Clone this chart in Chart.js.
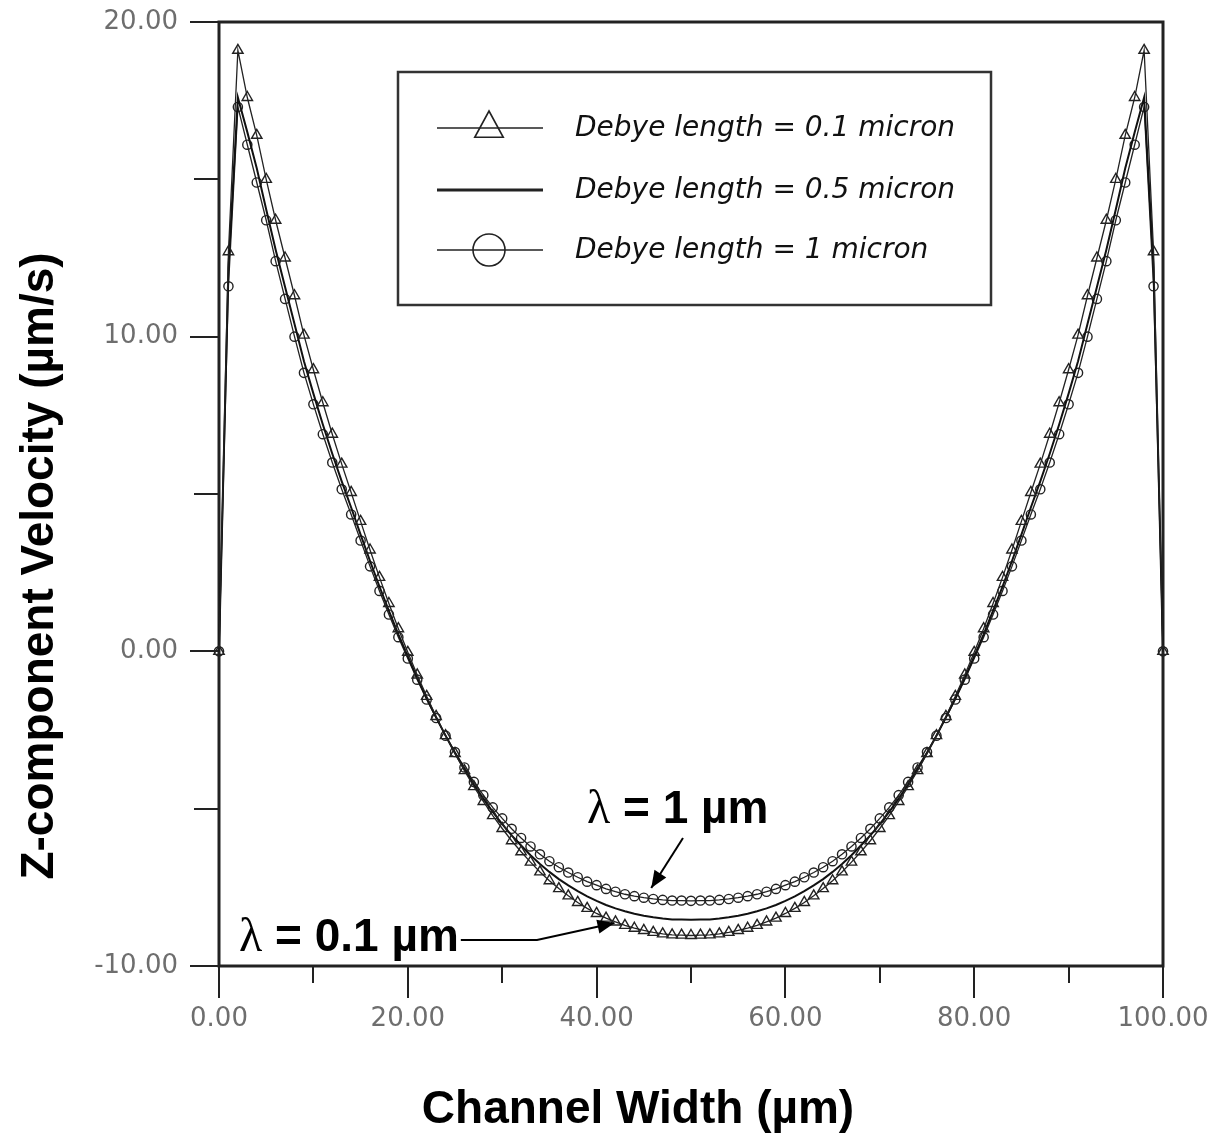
<!DOCTYPE html>
<html><head><meta charset="utf-8">
<script src="https://cdn.jsdelivr.net/npm/chart.js@4.4.1/dist/chart.umd.min.js"></script>
<style>html,body{margin:0;padding:0;background:#fff}#wrap{width:1219px;height:1136px}</style>
</head><body><div id="wrap"><canvas id="c" width="1219" height="1136"></canvas></div>
<script>
// ---- data ----
const channelWidth = [0,1,2,3,4,5,6,7,8,9,10,11,12,13,14,15,16,17,18,19,20,21,22,23,24,25,26,27,28,29,30,31,32,33,34,35,36,37,38,39,40,41,42,43,44,45,46,47,48,49,50,51,52,53,54,55,56,57,58,59,60,61,62,63,64,65,66,67,68,69,70,71,72,73,74,75,76,77,78,79,80,81,82,83,84,85,86,87,88,89,90,91,92,93,94,95,96,97,98,99,100];
const debye01 = [0,12.70,19.10,17.60,16.40,15.00,13.70,12.50,11.30,10.05,8.95,7.90,6.90,5.95,5.05,4.13,3.22,2.35,1.52,0.72,-0.03,-0.75,-1.43,-2.07,-2.68,-3.25,-3.79,-4.30,-4.77,-5.22,-5.63,-6.02,-6.37,-6.70,-7.01,-7.29,-7.54,-7.77,-7.98,-8.17,-8.33,-8.48,-8.60,-8.71,-8.80,-8.87,-8.93,-8.98,-9.01,-9.02,-9.03,
 -9.02,-9.01,-8.98,-8.93,-8.87,-8.80,-8.71,-8.60,-8.48,-8.33,-8.17,-7.98,-7.77,-7.54,-7.29,-7.01,-6.70,-6.37,-6.02,-5.63,-5.22,-4.77,-4.30,-3.79,-3.25,-2.68,-2.07,-1.43,-0.75,-0.03,0.72,1.52,2.35,3.22,4.13,5.05,5.95,6.90,7.90,8.95,10.05,11.30,12.50,13.70,15.00,16.40,17.60,19.10,12.70,0];
const debye05 = [0,12.20,17.60,16.50,15.35,14.04,12.76,11.58,10.40,9.22,8.19,7.21,6.28,5.40,4.57,3.71,2.87,2.06,1.29,0.54,-0.16,-0.85,-1.49,-2.10,-2.68,-3.23,-3.75,-4.23,-4.68,-5.10,-5.49,-5.85,-6.17,-6.48,-6.76,-7.01,-7.24,-7.44,-7.62,-7.79,-7.93,-8.06,-8.17,-8.26,-8.34,-8.40,-8.45,-8.49,-8.52,-8.52,-8.53,
 -8.52,-8.52,-8.49,-8.45,-8.40,-8.34,-8.26,-8.17,-8.06,-7.93,-7.79,-7.62,-7.44,-7.24,-7.01,-6.76,-6.48,-6.17,-5.85,-5.49,-5.10,-4.68,-4.23,-3.75,-3.23,-2.68,-2.10,-1.49,-0.85,-0.16,0.54,1.29,2.06,2.87,3.71,4.57,5.40,6.28,7.21,8.19,9.22,10.40,11.58,12.76,14.04,15.35,16.50,17.60,12.20,0];
const debye1 = [0,11.60,17.30,16.10,14.90,13.70,12.40,11.20,10.00,8.85,7.85,6.90,6.00,5.15,4.35,3.52,2.70,1.92,1.17,0.45,-0.23,-0.90,-1.53,-2.12,-2.68,-3.20,-3.69,-4.15,-4.57,-4.96,-5.31,-5.64,-5.93,-6.20,-6.45,-6.67,-6.86,-7.03,-7.18,-7.32,-7.43,-7.55,-7.64,-7.72,-7.78,-7.83,-7.87,-7.90,-7.92,-7.92,-7.93,
 -7.92,-7.92,-7.90,-7.87,-7.83,-7.78,-7.72,-7.64,-7.55,-7.43,-7.32,-7.18,-7.03,-6.86,-6.67,-6.45,-6.20,-5.93,-5.64,-5.31,-4.96,-4.57,-4.15,-3.69,-3.20,-2.68,-2.12,-1.53,-0.90,-0.23,0.45,1.17,1.92,2.70,3.52,4.35,5.15,6.00,6.90,7.85,8.85,10.00,11.20,12.40,13.70,14.90,16.10,17.30,11.60,0];
const seriesLabels = ['Debye length = 0.1 micron','Debye length = 0.5 micron','Debye length = 1 micron'];
const xTitle = 'Channel Width (\u00b5m)';
const yTitle = 'Z-component Velocity (\u00b5m/s)';
const annot1 = {sym:'\u03bb', text:' = 1 \u00b5m', pointX:46};
const annot2 = {sym:'\u03bb', text:' = 0.1 \u00b5m', pointX:42};

const pts = arr => channelWidth.map((x,i)=>({x:x, y:arr[i]}));
const INK = '#222';

const framePlugin = {
  id:'frameTicks',
  beforeDatasetsDraw(chart){
    const {ctx, chartArea:a, scales:{x,y}} = chart;
    ctx.save();
    ctx.strokeStyle = '#222'; ctx.lineWidth = 3;
    ctx.strokeRect(a.left, a.top, a.right-a.left, a.bottom-a.top);
    ctx.lineWidth = 2;
    y.ticks.forEach(t=>{
      const py = Math.round(y.getPixelForValue(t.value));
      const major = t.value % 10 === 0;
      ctx.beginPath(); ctx.moveTo(a.left-(major?29:25), py); ctx.lineTo(a.left, py); ctx.stroke();
    });
    x.ticks.forEach(t=>{
      const px = Math.round(x.getPixelForValue(t.value));
      const major = t.value % 20 === 0;
      ctx.beginPath(); ctx.moveTo(px, a.bottom); ctx.lineTo(px, a.bottom+(major?32:17)); ctx.stroke();
    });
    ctx.restore();
  }
};

function drawMarker(ctx, style, cx, cy, r){
  ctx.beginPath();
  if(style==='triangle'){
    ctx.moveTo(cx, cy-r); ctx.lineTo(cx+r*0.95, cy+r*0.75); ctx.lineTo(cx-r*0.95, cy+r*0.75); ctx.closePath();
  } else if(style==='circle'){
    ctx.arc(cx, cy, r, 0, Math.PI*2);
  }
  ctx.stroke();
}

function arrowHead(ctx, fx, fy, tx, ty){
  const ang = Math.atan2(ty-fy, tx-fx), L = 17, W = 7;
  ctx.beginPath();
  ctx.moveTo(tx, ty);
  ctx.lineTo(tx - L*Math.cos(ang) + W*Math.sin(ang), ty - L*Math.sin(ang) - W*Math.cos(ang));
  ctx.lineTo(tx - L*Math.cos(ang) - W*Math.sin(ang), ty - L*Math.sin(ang) + W*Math.cos(ang));
  ctx.closePath(); ctx.fill();
}

const overlayPlugin = {
  id:'overlay',
  afterDraw(chart){
    const {ctx, chartArea:a, scales:{x,y}} = chart;
    ctx.save();
    // legend box
    const bx = a.left+179, by = a.top+50, bw = 593, bh = 233;
    ctx.fillStyle = '#fff'; ctx.fillRect(bx, by, bw, bh);
    ctx.strokeStyle = '#333'; ctx.lineWidth = 2.5; ctx.strokeRect(bx, by, bw, bh);
    const rows = [by+56, by+118, by+178];
    chart.data.datasets.forEach((ds,i)=>{
      const ry = rows[i];
      ctx.strokeStyle = INK;
      ctx.lineWidth = ds.borderWidth > 1.8 ? 3 : 1.5;
      ctx.beginPath(); ctx.moveTo(bx+39, ry); ctx.lineTo(bx+145, ry); ctx.stroke();
      ctx.lineWidth = 1.6;
      if(ds.pointRadius > 0){
        if(ds.pointStyle==='triangle') drawMarker(ctx,'triangle', bx+91, ry-2, 15);
        else drawMarker(ctx,'circle', bx+91, ry, 16);
      }
      ctx.fillStyle = '#111';
      ctx.font = 'oblique 28px "DejaVu Sans"';
      ctx.textAlign = 'left'; ctx.textBaseline = 'middle';
      ctx.fillText(ds.label, bx+177, ry+1);
    });
    // axis titles
    ctx.fillStyle = '#000';
    ctx.font = 'bold 46px "Liberation Sans", Arial, sans-serif';
    ctx.textAlign = 'center'; ctx.textBaseline = 'middle';
    ctx.fillText(xTitle, 638, 1110);
    ctx.save(); ctx.translate(40, 566); ctx.rotate(-Math.PI/2);
    ctx.fillText(yTitle, 0, 0); ctx.restore();
    // annotations
    const drawLabel = (an, lx, baseY) => {
      ctx.textAlign = 'left'; ctx.textBaseline = 'alphabetic';
      ctx.font = '48px "Liberation Serif", serif';
      ctx.fillText(an.sym, lx, baseY);
      const w = ctx.measureText(an.sym).width;
      ctx.font = 'bold 46px "Liberation Sans", Arial, sans-serif';
      ctx.fillText(an.text, lx + w, baseY);
      return lx + w + ctx.measureText(an.text).width;
    };
    drawLabel(annot1, 587, 823);
    const end2 = drawLabel(annot2, 239, 951);
    ctx.strokeStyle = '#000'; ctx.fillStyle = '#000'; ctx.lineWidth = 2;
    const t1x = x.getPixelForValue(annot1.pointX) - 2, t1y = y.getPixelForValue(debye1[annot1.pointX]) - 11;
    const f1x = 683, f1y = 838;
    ctx.beginPath(); ctx.moveTo(f1x, f1y); ctx.lineTo(t1x, t1y); ctx.stroke();
    arrowHead(ctx, f1x, f1y, t1x, t1y);
    const t2x = x.getPixelForValue(annot2.pointX) - 1, t2y = y.getPixelForValue(debye01[annot2.pointX]) + 1;
    ctx.beginPath(); ctx.moveTo(end2 + 2, 940); ctx.lineTo(537, 940); ctx.lineTo(t2x, t2y); ctx.stroke();
    arrowHead(ctx, 537, 940, t2x, t2y);
    ctx.restore();
  }
};

const zeroPad = s => { s.paddingLeft = 0; s.paddingRight = 0; s.paddingTop = 0; s.paddingBottom = 0; };

new Chart(document.getElementById('c'), {
  type:'line',
  data:{
    datasets:[
      {label:seriesLabels[0], data:pts(debye01), borderColor:INK, borderWidth:1.3, pointStyle:'triangle', pointRadius:6, pointBorderColor:'#222', pointBorderWidth:1.4, pointBackgroundColor:'rgba(0,0,0,0)', tension:0, clip:false},
      {label:seriesLabels[1], data:pts(debye05), borderColor:'#111', borderWidth:2, pointRadius:0, tension:0, clip:false},
      {label:seriesLabels[2], data:pts(debye1), borderColor:INK, borderWidth:1.3, pointStyle:'circle', pointRadius:4.6, pointBorderColor:'#222', pointBorderWidth:1.4, pointBackgroundColor:'rgba(0,0,0,0)', tension:0, clip:false}
    ]
  },
  options:{
    responsive:false, animation:false, devicePixelRatio:1,
    layout:{padding:{left:0, top:22, right:56, bottom:0}},
    plugins:{legend:{display:false}, tooltip:{enabled:false}},
    scales:{
      x:{type:'linear', min:0, max:100,
         grid:{display:false, drawTicks:false}, border:{display:false},
         ticks:{stepSize:10, autoSkip:false, maxRotation:0, padding:38, color:'#6e6e6e',
                font:{family:'"DejaVu Sans"', size:26},
                callback:v => v % 20 === 0 ? v.toFixed(2) : ''},
         afterFit:s => { s.height = 170; zeroPad(s); }},
      y:{type:'linear', min:-10, max:20,
         grid:{display:false, drawTicks:false}, border:{display:false},
         ticks:{stepSize:5, autoSkip:false, padding:41, color:'#6e6e6e',
                font:{family:'"DejaVu Sans"', size:26},
                callback:v => v % 10 === 0 ? v.toFixed(2) : ''},
         afterFit:s => { s.width = 219; zeroPad(s); }}
    }
  },
  plugins:[framePlugin, overlayPlugin]
});
</script></body></html>
